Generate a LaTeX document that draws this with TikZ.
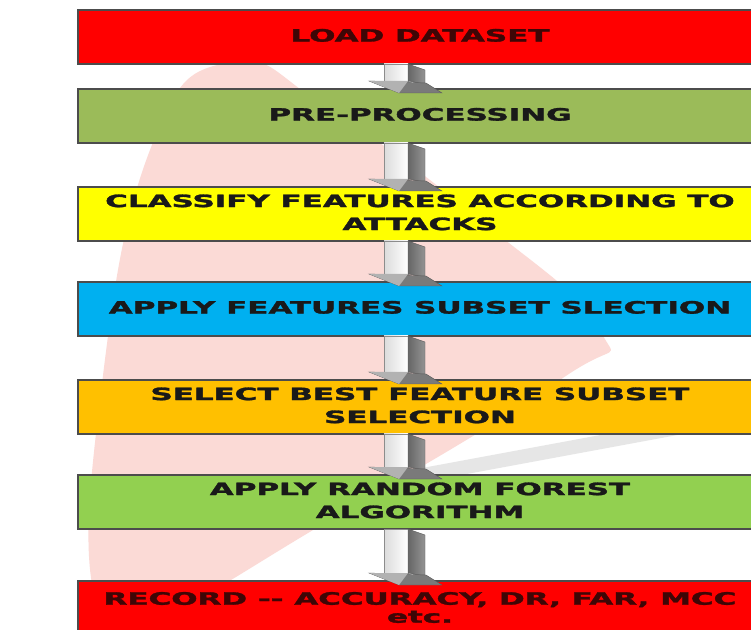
\documentclass[tikz,border=0pt]{standalone}
\usepackage{fontspec}
\setmainfont{DejaVu Sans}
\newfontfamily\stagefont{DejaVu Sans Bold}[FakeBold=1.6]
\usepackage{graphicx}
\usetikzlibrary{calc}
\usetikzlibrary{positioning}

\definecolor{loadred}{HTML}{FF0000}
\definecolor{oliveg}{HTML}{9BBB59}
\definecolor{yelbox}{HTML}{FFFF00}
\definecolor{bluebox}{HTML}{00B0F0}
\definecolor{orgbox}{HTML}{FFC000}
\definecolor{limebox}{HTML}{92D050}
\definecolor{textred}{HTML}{3E0606}
\definecolor{wmpink}{HTML}{FBDAD6}
\definecolor{wmgray}{HTML}{E6E6E6}

\newcommand{\boxtext}[1]{\scalebox{1.82}[1]{\begin{tabular}{@{}c@{}}#1\end{tabular}}}

% 3D block arrow from one stage to the next
\newcommand{\blockarrow}[2]{%
  \coordinate (arrtop) at ($(#1.south)+(-16,0)$);
  \coordinate (arrbot) at ($(#2.north)+(-16,-4)$);
  \shade[left color=black!14, right color=white, draw=black!45, line width=0.4pt]
    ($(arrtop)+(-20,0)$) rectangle ($(arrbot)+(4,12)$);
  \shade[left color=black!60, right color=black!42, draw=black!65, line width=0.4pt]
    ($(arrtop)+(4,0)$) -- ($(arrtop)+(21,-6)$) -- ($(arrbot)+(21,9)$) -- ($(arrbot)+(4,12)$) -- cycle;
  \fill[black!52, draw=black!65, line width=0.4pt]
    ($(arrbot)+(-35,12)$) -- ($(arrbot)+(-5,0)$) -- ($(arrbot)+(38,0)$) -- ($(arrbot)+(22,10)$) -- cycle;
  \fill[black!30] ($(arrbot)+(-35,12)$) -- ($(arrbot)+(-5,0)$) -- ($(arrbot)+(4,12)$) -- cycle;
}

\tikzset{
  stage/.style={draw=black!70, line width=1.2pt, minimum width=684pt, minimum height=54pt,
    inner sep=0pt, outer sep=0pt, text=black!90, font=\fontsize{17}{23}\stagefont},
}

\begin{document}
\begin{tikzpicture}[x=1pt, y=1pt]
  \useasboundingbox (0,0) rectangle (751,629);
  \clip (0,0) rectangle (751,629);
  \fill[white] (0,0) rectangle (751,629);

  % watermark
  \fill[wmpink] plot[smooth cycle, tension=0.8] coordinates
    {(230,567) (330,519) (480,409) (600,299) (560,249) (330,109) (150,9) (95,29) (100,229) (150,479)};
  \draw[wmgray, line width=14pt, line cap=round] (250,122) -- (720,209);

  % stages
  \node[stage, fill=loadred, text=textred] (load) at (420,592) {\boxtext{LOAD DATASET}};
  \node[stage, fill=oliveg, below=25pt of load] (prep) {\boxtext{PRE-PROCESSING}};
  \node[stage, fill=yelbox, below=44pt of prep] (classify) {\boxtext{CLASSIFY FEATURES ACCORDING TO\\ATTACKS}};
  \node[stage, fill=bluebox, below=41pt of classify] (subset) {\boxtext{APPLY FEATURES SUBSET SLECTION}};
  \node[stage, fill=orgbox, below=44pt of subset] (best) {\boxtext{SELECT BEST FEATURE SUBSET\\SELECTION}};
  \node[stage, fill=limebox, below=41pt of best] (forest) {\boxtext{APPLY RANDOM FOREST\\ALGORITHM}};
  \node[stage, fill=loadred, text=textred, below=52pt of forest, text depth=14pt] (record)
    {\boxtext{RECORD -- ACCURACY, DR, FAR, MCC\\[-5pt]etc.}};

  % arrows
  \blockarrow{load}{prep}
  \blockarrow{prep}{classify}
  \blockarrow{classify}{subset}
  \blockarrow{subset}{best}
  \blockarrow{best}{forest}
  \blockarrow{forest}{record}
\end{tikzpicture}
\end{document}
